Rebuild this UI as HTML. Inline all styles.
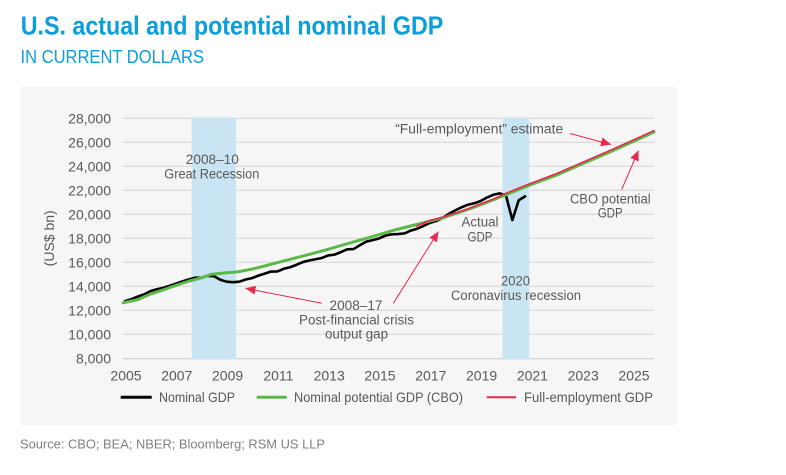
<!DOCTYPE html>
<html><head><meta charset="utf-8"><style>
html,body{margin:0;padding:0;background:#fff;}
svg{display:block;}
text{font-family:"Liberation Sans",sans-serif;}
</style></head><body>
<svg width="786" height="475" viewBox="0 0 786 475" xmlns="http://www.w3.org/2000/svg">
<defs>
<marker id="ah" markerUnits="userSpaceOnUse" markerWidth="11" markerHeight="9" refX="10" refY="4.5" orient="auto">
<path d="M0,0 L10,4.5 L0,9 z" fill="#e8284e"/>
</marker>
</defs>
<rect x="0" y="0" width="786" height="475" fill="#fff"/>
<text x="20.7" y="34.5" font-size="26" font-weight="bold" fill="#0a9edb" textLength="422.6" lengthAdjust="spacingAndGlyphs">U.S. actual and potential nominal GDP</text>
<text x="20.5" y="63" font-size="18" fill="#0a9edb" textLength="183.5" lengthAdjust="spacingAndGlyphs">IN CURRENT DOLLARS</text>
<rect x="20" y="87" width="657" height="338" fill="#f6f6f6"/>
<!-- grid -->
<g stroke="#d2d2d2" stroke-width="1">
<line x1="123" x2="654" y1="118.3" y2="118.3"/>
<line x1="123" x2="654" y1="142.3" y2="142.3"/>
<line x1="123" x2="654" y1="166.3" y2="166.3"/>
<line x1="123" x2="654" y1="190.3" y2="190.3"/>
<line x1="123" x2="654" y1="214.3" y2="214.3"/>
<line x1="123" x2="654" y1="238.3" y2="238.3"/>
<line x1="123" x2="654" y1="262.3" y2="262.3"/>
<line x1="123" x2="654" y1="286.3" y2="286.3"/>
<line x1="123" x2="654" y1="310.3" y2="310.3"/>
<line x1="123" x2="654" y1="334.3" y2="334.3"/>
<line x1="123" x2="654" y1="358.8" y2="358.8" stroke="#c8c8c8"/>
</g>
<rect x="191.7" y="117.7" width="44.3" height="241.6" fill="#c9e4f3"/>
<rect x="502.5" y="117.7" width="26.8" height="241.6" fill="#c9e4f3"/>
<!-- y labels -->
<g font-size="14" fill="#595959" text-anchor="end">
<text x="111" y="123.3">28,000</text>
<text x="111" y="147.3">26,000</text>
<text x="111" y="171.3">24,000</text>
<text x="111" y="195.3">22,000</text>
<text x="111" y="219.3">20,000</text>
<text x="111" y="243.3">18,000</text>
<text x="111" y="267.3">16,000</text>
<text x="111" y="291.3">14,000</text>
<text x="111" y="315.3">12,000</text>
<text x="111" y="339.3">10,000</text>
<text x="111" y="363.3">8,000</text>
</g>
<text x="0" y="0" font-size="14" fill="#595959" text-anchor="middle" transform="translate(54,238.3) rotate(-90)">(US$ bn)</text>
<!-- x labels -->
<g font-size="14" fill="#595959" text-anchor="middle">
<text x="126" y="380.5">2005</text>
<text x="176.8" y="380.5">2007</text>
<text x="227.6" y="380.5">2009</text>
<text x="278.4" y="380.5">2011</text>
<text x="329.2" y="380.5">2013</text>
<text x="380" y="380.5">2015</text>
<text x="430.8" y="380.5">2017</text>
<text x="481.6" y="380.5">2019</text>
<text x="532.4" y="380.5">2021</text>
<text x="583.2" y="380.5">2023</text>
<text x="634" y="380.5">2025</text>
</g>
<!-- series -->
<g transform="matrix(6.35 0 0 -1.2 125 454.3)" fill="none" stroke-linejoin="round" stroke-linecap="round">
<polyline vector-effect="non-scaling-stroke" stroke="#000" stroke-width="2.6" points="0,127.67 1,129.22 2,131.42 3,133.24 4,135.99 5,137.54 6,138.70 7,140.39 8,142.16 9,144.02 10,145.64 11,147.16 12,147.06 13,148.66 14,148.44 15,145.49 16,143.84 17,143.40 18,143.85 19,145.67 20,146.81 21,148.89 22,150.58 23,152.31 24,152.38 25,154.61 26,155.88 27,157.86 28,160.20 29,161.53 30,162.57 31,163.59 32,165.69 33,166.38 34,168.49 35,170.83 36,171.04 37,174.32 38,177.21 39,178.49 40,179.85 41,182.20 42,183.31 43,183.54 44,184.10 45,186.40 46,188.00 47,190.34 48,192.80 49,194.38 50,196.92 51,200.38 52,203.28 53,205.80 54,207.98 55,209.18 56,211.11 57,213.98 58,216.26 59,217.47 60,215.61 61,195.20 62,211.70 63,214.94"/>
<polyline vector-effect="non-scaling-stroke" stroke="#5bb947" stroke-width="3" points="-0.3,126.3 2,128.9 4,133.5 6,137.0 8,140.7 10,144.2 12,147.0 13.6,150.0 16,151.3 17.6,151.9 20,154.3 22,157.0 24,159.8 26,162.5 28,165.2 30,168.0 32,170.8 34,174.0 36,177.0 38,180.0 40,183.0 42,186.2 44,189.0 46,191.6 48,194.3 50,197.0 52,200.5 54,204.0 56,208.0 58,212.0 59.5,215.3 64,224.8 68,232.8 72,242.0 76,251.1 80,260.6 83.3,268.6"/>
<polyline vector-effect="non-scaling-stroke" stroke="#e8284e" stroke-width="1.6" points="45.9,190.2 48,194.8 50,197.6 52,201.0 54,204.6 56,208.6 58,212.6 59.5,216.4 64,226.0 68,234.0 72,243.2 76,252.3 80,261.8 83.3,269.8"/>
</g>
<!-- annotations -->
<g font-size="13.5" fill="#595959" text-anchor="middle">
<text x="212.3" y="164" textLength="53" lengthAdjust="spacingAndGlyphs">2008–10</text>
<text x="211.8" y="178.5" textLength="95" lengthAdjust="spacingAndGlyphs">Great Recession</text>
<text x="356" y="310" textLength="53" lengthAdjust="spacingAndGlyphs">2008–17</text>
<text x="356.5" y="324.3" textLength="115" lengthAdjust="spacingAndGlyphs">Post-financial crisis</text>
<text x="356.5" y="338.5" textLength="63" lengthAdjust="spacingAndGlyphs">output gap</text>
<text x="480" y="226.5" textLength="37" lengthAdjust="spacingAndGlyphs">Actual</text>
<text x="480" y="241.5" textLength="25" lengthAdjust="spacingAndGlyphs">GDP</text>
<text x="515.5" y="285.5" textLength="29" lengthAdjust="spacingAndGlyphs">2020</text>
<text x="516" y="300" textLength="130" lengthAdjust="spacingAndGlyphs">Coronavirus recession</text>
<text x="479.2" y="133.3" textLength="168" lengthAdjust="spacingAndGlyphs">“Full-employment” estimate</text>
<text x="610.3" y="203.3" textLength="80.7" lengthAdjust="spacingAndGlyphs">CBO potential</text>
<text x="610.2" y="217.5" textLength="25" lengthAdjust="spacingAndGlyphs">GDP</text>
</g>
<g stroke="#e8284e" stroke-width="1" fill="none" marker-end="url(#ah)">
<line x1="321.7" y1="303.3" x2="245.5" y2="288.3"/>
<line x1="393.3" y1="303.3" x2="438.5" y2="231.5"/>
<line x1="570" y1="133.5" x2="611" y2="144.5"/>
<line x1="621.7" y1="189.5" x2="638.5" y2="150.5"/>
</g>
<!-- legend -->
<line x1="120.7" y1="397.3" x2="151.7" y2="397.3" stroke="#000" stroke-width="3"/>
<line x1="256.7" y1="397.3" x2="286.7" y2="397.3" stroke="#5bb947" stroke-width="3"/>
<line x1="486.7" y1="397.3" x2="516" y2="397.3" stroke="#e8284e" stroke-width="2"/>
<g font-size="14" fill="#595959">
<text x="159" y="402" textLength="76" lengthAdjust="spacingAndGlyphs">Nominal GDP</text>
<text x="294" y="402" textLength="169" lengthAdjust="spacingAndGlyphs">Nominal potential GDP (CBO)</text>
<text x="524" y="402" textLength="129" lengthAdjust="spacingAndGlyphs">Full-employment GDP</text>
</g>
<text x="20" y="448.5" font-size="13" fill="#808080" textLength="305" lengthAdjust="spacingAndGlyphs">Source: CBO; BEA; NBER; Bloomberg; RSM US LLP</text>
</svg>
</body></html>
